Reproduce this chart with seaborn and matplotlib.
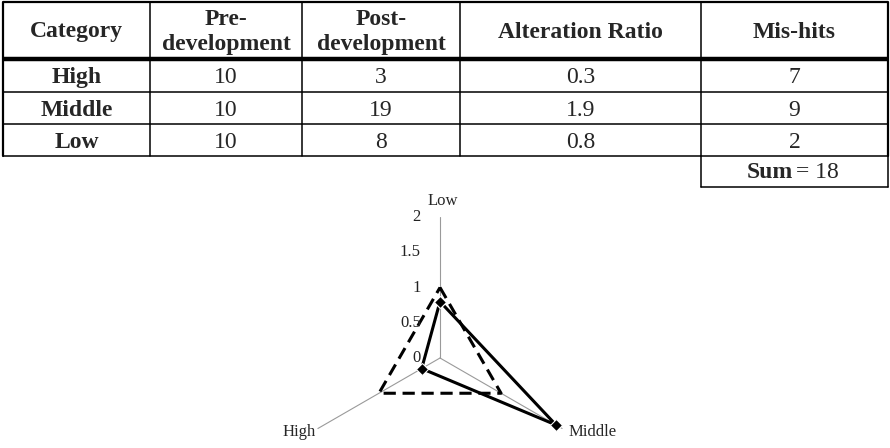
import numpy as np
import pandas as pd
import matplotlib
matplotlib.use("Agg")
import matplotlib.pyplot as plt
import seaborn as sns

sns.set_theme(style="white")
plt.rcParams['font.family'] = ['Liberation Serif', 'DejaVu Serif']

# table data
headers = ["Category", "Pre-\ndevelopment", "Post-\ndevelopment", "Alteration Ratio", "Mis-hits"]
categories = ["High", "Middle", "Low"]
pre_dev = [10, 10, 10]
post_dev = [3, 19, 8]
alteration = ["0.3", "1.9", "0.8"]
mis_hits = [7, 9, 2]
mis_sum = 18

# radar data (axes clockwise from top)
radar_axes = ["Low", "Middle", "High"]
radar_angles = [90, -30, 210]
radar_pre = [1, 1, 1]
radar_alt = [0.8, 1.9, 0.3]
radar_ticks = ["0", "0.5", "1", "1.5", "2"]

fig = plt.figure(figsize=(8.9, 4.48), dpi=100)

# ---- table, drawn in pixel coords
tab = fig.add_axes([0, 0, 1, 1])
tab.set_xlim(0, 890)
tab.set_ylim(448, 0)
tab.axis('off')

col_x = [3, 150, 302, 460, 701, 888]
row_y = [2, 59, 92, 124, 156]

for i, y in enumerate(row_y):
    lw = 3.2 if i == 1 else (1.6 if i == 0 else 1.1)
    tab.plot([col_x[0], col_x[-1]], [y, y], color='black', lw=lw, solid_capstyle='butt')
for i, x in enumerate(col_x):
    lw = 1.6 if i in (0, len(col_x) - 1) else 1.1
    tab.plot([x, x], [row_y[0], row_y[-1]], color='black', lw=lw)
# sum box
tab.plot([701, 701], [156, 187], color='black', lw=1.1)
tab.plot([888, 888], [156, 187], color='black', lw=1.1)
tab.plot([701, 888], [187, 187], color='black', lw=1.1)

fs = 17
for i, h in enumerate(headers):
    cx = (col_x[i] + col_x[i + 1]) / 2
    tab.text(cx, 32, h, ha='center', va='center', fontsize=fs, fontweight='bold',
             linespacing=1.3)

rows = list(zip(categories, pre_dev, post_dev, alteration, mis_hits))
for r, row in enumerate(rows):
    cy = (row_y[r + 1] + row_y[r + 2]) / 2 + 2
    for c, val in enumerate(row):
        cx = (col_x[c] + col_x[c + 1]) / 2
        tab.text(cx, cy, str(val), ha='center', va='center', fontsize=fs,
                 fontweight='bold' if c == 0 else 'normal')

tab.text(793, 173, "Sum", ha='right', va='center', fontsize=fs, fontweight='bold')
tab.text(796, 173, "= %d" % mis_sum, ha='left', va='center', fontsize=fs)

# ---- radar chart
scale = 70.5  # px per unit
rad = fig.add_axes([280 / 890, 3 / 448, 340 / 890, 250 / 448])
rad.set_xlim(-160 / scale, 180 / scale)
rad.set_ylim(-87 / scale, 163 / scale)
rad.axis('off')

ang = np.deg2rad(radar_angles)
for a in ang:
    rad.plot([0, 2 * np.cos(a)], [0, 2 * np.sin(a)], color='#9a9a9a', lw=0.8, zorder=1)


def polygon(vals):
    v = np.array(vals + vals[:1], dtype=float)
    a = np.concatenate([ang, ang[:1]])
    return pd.DataFrame({'x': v * np.cos(a), 'y': v * np.sin(a)})


sns.lineplot(data=polygon(radar_pre), x='x', y='y', sort=False, estimator=None,
             color='black', lw=2.2, linestyle=(0, (4, 2.2)), ax=rad, zorder=3)
sns.lineplot(data=polygon(radar_alt), x='x', y='y', sort=False, estimator=None,
             color='black', lw=2.2, marker='D', markersize=6, ax=rad, zorder=4)
rad.set_xlabel('')
rad.set_ylabel('')

for t in radar_ticks:
    rad.text(-0.27, float(t), t, ha='right', va='center', fontsize=12, color='#222222')

for name, a in zip(radar_axes, ang):
    ex, ey = 2 * np.cos(a), 2 * np.sin(a)
    if name == "Low":
        rad.text(ex + 0.04, ey + 0.12, name, ha='center', va='bottom', fontsize=12)
    elif name == "Middle":
        rad.text(ex + 0.09, ey - 0.05, name, ha='left', va='center', fontsize=12)
    else:
        rad.text(ex - 0.03, ey - 0.05, name, ha='right', va='center', fontsize=12)

fig.savefig("out.png", dpi=100)
